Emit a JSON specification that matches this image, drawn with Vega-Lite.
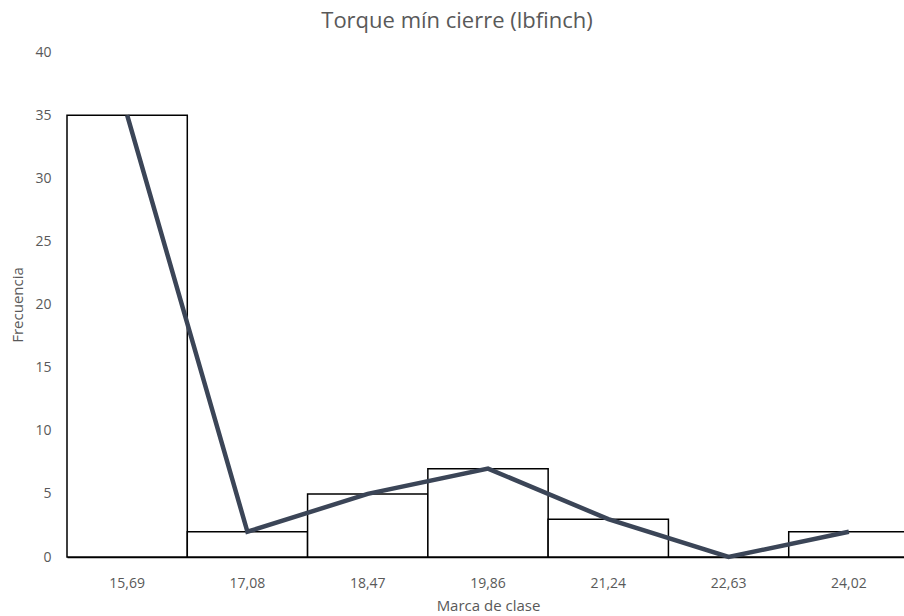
{
  "$schema": "https://vega.github.io/schema/vega-lite/v6.json",
  "autosize": {"type": "none"},
  "padding": {"left": 67, "top": 52, "right": 0, "bottom": 59},
  "width": 842,
  "height": 505,
  "background": "white",
  "config": {
    "view": {"stroke": null},
    "font": "Open Sans"
  },
  "title": {
    "text": "Torque mín cierre (lbfinch)",
    "fontSize": 22,
    "fontWeight": "normal",
    "color": "#595959",
    "anchor": "middle",
    "dx": -31,
    "offset": 12,
    "font": "Open Sans"
  },
  "data": {
    "values": [
      {"marca": "15,69", "frecuencia": 35},
      {"marca": "17,08", "frecuencia": 2},
      {"marca": "18,47", "frecuencia": 5},
      {"marca": "19,86", "frecuencia": 7},
      {"marca": "21,24", "frecuencia": 3},
      {"marca": "22,63", "frecuencia": 0},
      {"marca": "24,02", "frecuencia": 2}
    ]
  },
  "encoding": {
    "x": {
      "field": "marca",
      "type": "nominal",
      "sort": null,
      "scale": {"paddingInner": 0, "paddingOuter": 0},
      "axis": {
        "title": "Marca de clase",
        "titleFontSize": 15,
        "titleFontWeight": "normal",
        "titleColor": "#595959",
        "titlePadding": 8,
        "labelAngle": 0,
        "labelFontSize": 14,
        "labelColor": "#595959",
        "labelPadding": 19,
        "ticks": false,
        "domain": true,
        "domainColor": "#000000",
        "domainWidth": 1.5,
        "grid": false
      }
    },
    "y": {
      "field": "frecuencia",
      "type": "quantitative",
      "scale": {"domain": [0, 40]},
      "axis": {
        "title": "Frecuencia",
        "titleFontSize": 15,
        "titleFontWeight": "normal",
        "titleColor": "#595959",
        "titlePadding": 9,
        "values": [0, 5, 10, 15, 20, 25, 30, 35, 40],
        "labelFontSize": 14,
        "labelColor": "#595959",
        "labelPadding": 16,
        "ticks": false,
        "domain": false,
        "grid": false
      }
    }
  },
  "layer": [
    {
      "mark": {"type": "bar", "fill": "white", "stroke": "black", "strokeWidth": 1.5}
    },
    {
      "mark": {"type": "line", "color": "#3B4557", "strokeWidth": 4.5}
    }
  ]
}
